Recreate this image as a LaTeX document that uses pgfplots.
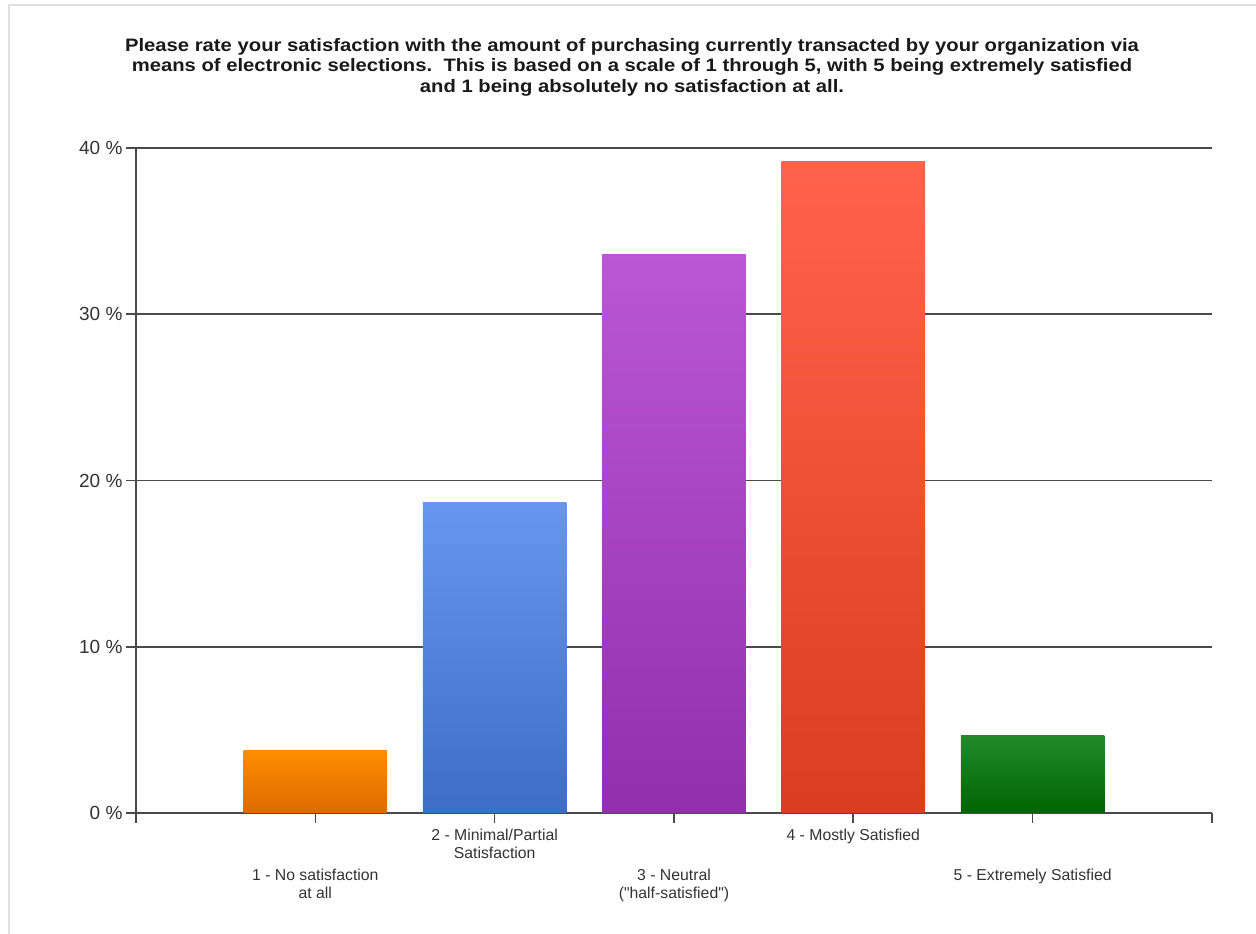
\documentclass[border=0pt]{standalone}
\usepackage{pgfplots}
\pgfplotsset{compat=1.18}
\usepackage{fontspec}
\setmainfont{Liberation Sans}[Ligatures=TeXOff]
\definecolor{orT}{HTML}{FF8C00}
\definecolor{orB}{HTML}{DC6A00}
\definecolor{blT}{HTML}{6696EE}
\definecolor{blB}{HTML}{3E6DC8}
\definecolor{puT}{HTML}{BB57D4}
\definecolor{puB}{HTML}{922FAC}
\definecolor{reT}{HTML}{FF634A}
\definecolor{reB}{HTML}{DA3E20}
\definecolor{grT}{HTML}{24892A}
\definecolor{grB}{HTML}{006400}
\definecolor{txt}{HTML}{333333}
\definecolor{gridc}{HTML}{4A4A4A}
\begin{document}
\begin{tikzpicture}[x=1pt,y=1pt]
\useasboundingbox (0,0) rectangle (1256,934);
\draw[black!12, line width=2pt] (9,0) -- (9,929) -- (1256,929);
\node[font=\fontsize{18}{20.5}\selectfont\bfseries, align=center, text=black!90, xscale=1.125, transform shape] at (632,867)
{Please rate your satisfaction with the amount of purchasing currently transacted by your organization via\\
means of electronic selections.\ \ This is based on a scale of 1 through 5, with 5 being extremely satisfied\\
and 1 being absolutely no satisfaction at all.};
\begin{axis}[
  at={(136pt,121pt)}, anchor=south west,
  scale only axis, width=1076pt, height=665pt,
  xmin=0, xmax=6, ymin=0, ymax=40,
  axis x line*=bottom, axis y line*=left,
  axis line style={-, draw=gridc, line width=1.6pt},
  tick align=outside, major tick length=10pt,
  tick style={draw=gridc, line width=1.6pt},
  ytick={0,10,20,30,40},
  ymajorgrids, major grid style={draw=gridc, line width=1.7pt},
  /pgf/number format/assume math mode=true,
  yticklabel={\pgfmathprintnumber{\tick}\ \%},
  yticklabel style={font=\fontsize{19}{22}\selectfont, text=txt},
  xtick={0,1,2,3,4,5,6},
  xticklabels={,,{2 - Minimal/Partial\\Satisfaction},,{4 - Mostly Satisfied},,},
  xticklabel style={align=center, font=\fontsize{15.8}{18}\selectfont, text=txt, yshift=-3pt},
  extra x ticks={1,3,5},
  extra x tick labels={{1 - No satisfaction\\at all},{3 - Neutral\\("half-satisfied")},{5 - Extremely Satisfied}},
  extra x tick style={major tick length=0pt, xticklabel style={yshift=-50pt}},
  clip=false,
]
\addplot[ybar, bar width=0.8, bar shift=0pt, draw=none, top color=orT, bottom color=orB] coordinates {(1,3.73)};
\addplot[ybar, bar width=0.8, bar shift=0pt, draw=none, top color=blT, bottom color=blB] coordinates {(2,18.66)};
\addplot[ybar, bar width=0.8, bar shift=0pt, draw=none, top color=puT, bottom color=puB] coordinates {(3,33.58)};
\addplot[ybar, bar width=0.8, bar shift=0pt, draw=none, top color=reT, bottom color=reB] coordinates {(4,39.18)};
\addplot[ybar, bar width=0.8, bar shift=0pt, draw=none, top color=grT, bottom color=grB] coordinates {(5,4.66)};
\end{axis}
\end{tikzpicture}
\end{document}
